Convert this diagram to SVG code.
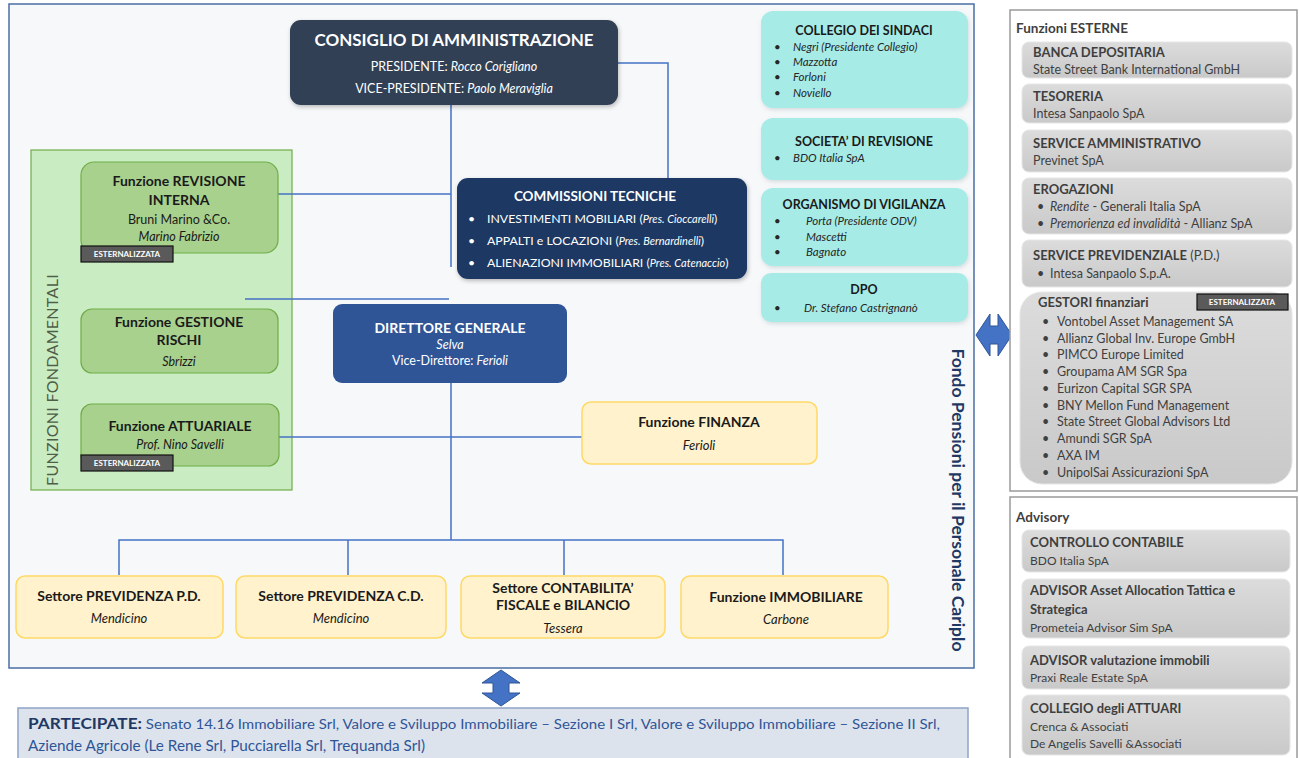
<svg xmlns="http://www.w3.org/2000/svg" width="1299" height="758" viewBox="0 0 1299 758">
<defs>
<style>
text{font-family:Lato,"Liberation Sans",sans-serif;}
.b{font-weight:bold;}
.i{font-style:italic;}
.w{fill:#ffffff;}
.k{fill:#1a1a1a;}
.g{fill:#3f3f3f;}
.c{text-anchor:middle;}
.cy{fill:#a6ebe6;}
.yl{fill:#fff2cc;stroke:#ffd966;stroke-width:1.5;}
.gr{fill:#a9d18e;stroke:#70ad47;stroke-width:1.2;}
.gb{fill:url(#gg);stroke:#e6e6e6;stroke-width:1;}
.badge{fill:#5a5a5a;stroke:#111;stroke-width:1.2;}
.bt{font-size:8px;font-weight:bold;fill:#fff;text-anchor:middle;}
.con{fill:none;stroke:#4472c4;stroke-width:1.5;}
</style>
<linearGradient id="gg" x1="0" y1="0" x2="0" y2="1">
<stop offset="0" stop-color="#dcdcdc"/>
<stop offset="1" stop-color="#c9c9c9"/>
</linearGradient>
<filter id="sh" x="-10%" y="-10%" width="125%" height="130%">
<feDropShadow dx="1" dy="2" stdDeviation="2" flood-color="#000" flood-opacity="0.25"/>
</filter>
<filter id="sh2" x="-10%" y="-10%" width="125%" height="130%">
<feDropShadow dx="1" dy="2" stdDeviation="2" flood-color="#6a8a8a" flood-opacity="0.25"/>
</filter>
</defs>
<rect x="0" y="0" width="1299" height="758" fill="#ffffff"/>
<!-- main frame -->
<g id="frame">
<rect x="9" y="4" width="965" height="664" fill="#f7f8fa" stroke="#4a6fa5" stroke-width="1.5"/>
<text class="b" font-size="17.5" fill="#1f3864" text-anchor="middle" transform="translate(952,500) rotate(90)">Fondo Pensioni per il Personale Cariplo</text>
</g>
<!-- green container -->
<g id="funzioni-fondamentali">
<rect x="31" y="150" width="261" height="340" fill="#c9ecc3" stroke="#70ad47" stroke-width="1.2"/>
<text font-size="16" fill="#4e5e47" text-anchor="middle" transform="translate(58,380) rotate(-90)" letter-spacing="0.3">FUNZIONI FONDAMENTALI</text>
</g>
<!-- connectors -->
<g id="connectors">
<path class="con" d="M451,105 V267"/>
<path class="con" d="M618,63 H668 V178"/>
<path class="con" d="M278,194 H451"/>
<path class="con" d="M245,299 H449"/>
<path class="con" d="M451,383 V540"/>
<path class="con" d="M278,437 H582"/>
<path class="con" d="M119,575 V540 H783 V575"/>
<path class="con" d="M348,540 V575"/>
<path class="con" d="M564,540 V575"/>
</g>
<!-- CdA -->
<g id="cda">
<rect x="290" y="20" width="328" height="85" rx="11" fill="#323f55" filter="url(#sh)"/>
<text class="b w c" x="454" y="46" font-size="17">CONSIGLIO DI AMMINISTRAZIONE</text>
<text class="w c" x="454" y="71" font-size="12.5">PRESIDENTE: <tspan class="i">Rocco Corigliano</tspan></text>
<text class="w c" x="454" y="93" font-size="12.5">VICE-PRESIDENTE: <tspan class="i">Paolo Meraviglia</tspan></text>
</g>
<!-- Commissioni -->
<g id="commissioni">
<rect x="457" y="178" width="290" height="101" rx="11" fill="#1f3864" filter="url(#sh)"/>
<text class="b w c" x="595" y="201" font-size="13.5">COMMISSIONI TECNICHE</text>
<g class="w" font-size="12.3">
<text x="468" y="223">•</text><text x="487" y="223">INVESTIMENTI MOBILIARI (<tspan class="i" font-size="11">Pres. Cioccarelli</tspan>)</text>
<text x="468" y="245">•</text><text x="487" y="245">APPALTI e LOCAZIONI (<tspan class="i" font-size="11">Pres. Bernardinelli</tspan>)</text>
<text x="468" y="267">•</text><text x="487" y="267">ALIENAZIONI IMMOBILIARI (<tspan class="i" font-size="11">Pres. Catenaccio</tspan>)</text>
</g>
</g>
<!-- DG -->
<g id="direttore-generale">
<rect x="333" y="304" width="234" height="79" rx="9" fill="#2f5597"/>
<text class="b w c" x="450" y="333" font-size="14">DIRETTORE GENERALE</text>
<text class="i w c" x="450" y="349" font-size="12.5">Selva</text>
<text class="w c" x="450" y="365" font-size="12.5">Vice-Direttore: <tspan class="i">Ferioli</tspan></text>
</g>
<!-- green boxes -->
<g id="revisione-interna">
<rect class="gr" x="81" y="162" width="197" height="91" rx="13"/>
<text class="b k c" x="179" y="186" font-size="14">Funzione REVISIONE</text>
<text class="b k c" x="179" y="205" font-size="14">INTERNA</text>
<text class="k c" x="179" y="224" font-size="12.5">Bruni Marino &amp;Co.</text>
<text class="i k c" x="179" y="241" font-size="12.5">Marino Fabrizio</text>
<rect class="badge" x="81" y="246" width="92" height="16"/>
<text class="bt" x="127" y="257">ESTERNALIZZATA</text>
</g>
<g id="gestione-rischi">
<rect class="gr" x="81" y="309" width="197" height="64" rx="11"/>
<text class="b k c" x="179" y="327" font-size="14">Funzione GESTIONE</text>
<text class="b k c" x="179" y="345" font-size="14">RISCHI</text>
<text class="i k c" x="179" y="366" font-size="12.5">Sbrizzi</text>
</g>
<g id="attuariale">
<rect class="gr" x="81" y="404" width="198" height="62" rx="11"/>
<text class="b k c" x="180" y="431" font-size="14">Funzione ATTUARIALE</text>
<text class="i k c" x="180" y="449" font-size="12.5">Prof. Nino Savelli</text>
<rect class="badge" x="81" y="455" width="92" height="16"/>
<text class="bt" x="127" y="466">ESTERNALIZZATA</text>
</g>
<!-- Finanza -->
<g id="finanza">
<rect class="yl" x="582" y="402" width="235" height="62" rx="9"/>
<text class="b k c" x="699" y="427" font-size="14">Funzione FINANZA</text>
<text class="i k c" x="699" y="450" font-size="13">Ferioli</text>
</g>
<!-- bottom row -->
<g id="previdenza-pd">
<rect class="yl" x="16" y="576" width="207" height="62" rx="9"/>
<text class="b k c" x="119" y="601" font-size="14">Settore PREVIDENZA P.D.</text>
<text class="i k c" x="119" y="623" font-size="13">Mendicino</text>
</g>
<g id="previdenza-cd">
<rect class="yl" x="236" y="576" width="210" height="62" rx="9"/>
<text class="b k c" x="341" y="601" font-size="14">Settore PREVIDENZA C.D.</text>
<text class="i k c" x="341" y="623" font-size="13">Mendicino</text>
</g>
<g id="contabilita">
<rect class="yl" x="461" y="576" width="204" height="62" rx="9"/>
<text class="b k c" x="563" y="593" font-size="14">Settore CONTABILITA’</text>
<text class="b k c" x="563" y="610" font-size="14">FISCALE e BILANCIO</text>
<text class="i k c" x="563" y="633" font-size="13">Tessera</text>
</g>
<g id="immobiliare">
<rect class="yl" x="681" y="576" width="207" height="62" rx="9"/>
<text class="b k c" x="786" y="602" font-size="14">Funzione IMMOBILIARE</text>
<text class="i k c" x="786" y="624" font-size="13">Carbone</text>
</g>
<!-- cyan boxes -->
<g id="collegio-sindaci">
<rect class="cy" x="761" y="11" width="207" height="97" rx="12" filter="url(#sh2)"/>
<text class="b k c" x="864" y="35" font-size="12.5">COLLEGIO DEI SINDACI</text>
<g class="i" font-size="11.5" fill="#262626">
<text x="774" y="51">•</text><text x="793" y="51">Negri (Presidente Collegio)</text>
<text x="774" y="66">•</text><text x="793" y="66">Mazzotta</text>
<text x="774" y="81">•</text><text x="793" y="81">Forloni</text>
<text x="774" y="97">•</text><text x="793" y="97">Noviello</text>
</g>
</g>
<g id="societa-revisione">
<rect class="cy" x="761" y="118" width="207" height="62" rx="12" filter="url(#sh2)"/>
<text class="b k c" x="864" y="146" font-size="12.5">SOCIETA’ DI REVISIONE</text>
<text x="774" y="162" font-size="11.5" fill="#262626">•</text><text class="i" x="793" y="162" font-size="11.5" fill="#262626">BDO Italia SpA</text>
</g>
<g id="organismo-vigilanza">
<rect class="cy" x="761" y="188" width="207" height="78" rx="12" filter="url(#sh2)"/>
<text class="b k c" x="864" y="209" font-size="12.5">ORGANISMO DI VIGILANZA</text>
<g class="i" font-size="11.5" fill="#262626">
<text x="774" y="225">•</text><text x="806" y="225">Porta (Presidente ODV)</text>
<text x="774" y="241">•</text><text x="806" y="241">Mascetti</text>
<text x="774" y="256">•</text><text x="806" y="256">Bagnato</text>
</g>
</g>
<g id="dpo">
<rect class="cy" x="761" y="273" width="207" height="49" rx="10" filter="url(#sh2)"/>
<text class="b k c" x="864" y="294" font-size="12.5">DPO</text>
<text x="774" y="312" font-size="11.5" fill="#262626">•</text><text class="i" x="804" y="312" font-size="11.5" fill="#262626">Dr. Stefano Castrignanò</text>
</g>
<!-- arrows -->
<g id="arrows" fill="#4472c4" stroke="#2f5597" stroke-width="1">
<polygon points="976,335 990,314 990,326 998,326 998,314 1012,335 998,356 998,344 990,344 990,356"/>
<polygon points="501,670 520,683 509,683 509,693 520,693 501,706 482,693 493,693 493,683 482,683"/>
</g>
<!-- right panel: funzioni esterne -->
<g id="funzioni-esterne">
<rect x="1010" y="10" width="287" height="481" fill="#ffffff" stroke="#9a9a9a" stroke-width="1.5"/>
<text class="b g" x="1016" y="33" font-size="13.5">Funzioni ESTERNE</text>
</g>
<g id="banca-depositaria">
<rect class="gb" x="1022" y="42" width="270" height="36" rx="7"/>
<text class="b g" x="1033" y="57" font-size="13">BANCA DEPOSITARIA</text>
<text class="g" x="1033" y="74" font-size="12.5">State Street Bank International GmbH</text>
</g>
<g id="tesoreria">
<rect class="gb" x="1022" y="84" width="270" height="39" rx="7"/>
<text class="b g" x="1033" y="101" font-size="13">TESORERIA</text>
<text class="g" x="1033" y="118" font-size="12.5">Intesa Sanpaolo SpA</text>
</g>
<g id="service-amministrativo">
<rect class="gb" x="1022" y="130" width="270" height="42" rx="7"/>
<text class="b g" x="1033" y="148" font-size="13">SERVICE AMMINISTRATIVO</text>
<text class="g" x="1033" y="165" font-size="12.5">Previnet SpA</text>
</g>
<g id="erogazioni">
<rect class="gb" x="1022" y="178" width="270" height="56" rx="7"/>
<text class="b g" x="1033" y="194" font-size="13">EROGAZIONI</text>
<text class="g" x="1037" y="211" font-size="12.5">•</text><text class="g" x="1050" y="211" font-size="12.5"><tspan class="i">Rendite</tspan> - Generali Italia SpA</text>
<text class="g" x="1037" y="228" font-size="12.5">•</text><text class="g" x="1050" y="228" font-size="12.5"><tspan class="i">Premorienza ed invalidità</tspan> - Allianz SpA</text>
</g>
<g id="service-previdenziale">
<rect class="gb" x="1022" y="240" width="270" height="47" rx="7"/>
<text class="g" x="1033" y="260" font-size="13"><tspan class="b">SERVICE PREVIDENZIALE</tspan> (P.D.)</text>
<text class="g" x="1037" y="278" font-size="12.5">•</text><text class="g" x="1050" y="278" font-size="12.5">Intesa Sanpaolo S.p.A.</text>
</g>
<g id="gestori-finanziari">
<rect class="gb" x="1020" y="292" width="272" height="192" rx="22"/>
<text class="b g" x="1038" y="307" font-size="13">GESTORI finanziari</text>
<rect class="badge" x="1197" y="294" width="91" height="16"/>
<text class="bt" x="1242" y="305">ESTERNALIZZATA</text>
<g class="g" font-size="12.5">
<text x="1042" y="326">•</text><text x="1057" y="326">Vontobel Asset Management SA</text>
<text x="1042" y="343">•</text><text x="1057" y="343">Allianz Global Inv. Europe GmbH</text>
<text x="1042" y="359">•</text><text x="1057" y="359">PIMCO Europe Limited</text>
<text x="1042" y="376">•</text><text x="1057" y="376">Groupama AM SGR Spa</text>
<text x="1042" y="393">•</text><text x="1057" y="393">Eurizon Capital SGR SPA</text>
<text x="1042" y="410">•</text><text x="1057" y="410">BNY Mellon Fund Management</text>
<text x="1042" y="426">•</text><text x="1057" y="426">State Street Global Advisors Ltd</text>
<text x="1042" y="443">•</text><text x="1057" y="443">Amundi SGR SpA</text>
<text x="1042" y="460">•</text><text x="1057" y="460">AXA IM</text>
<text x="1042" y="477">•</text><text x="1057" y="477">UnipolSai Assicurazioni SpA</text>
</g>
</g>
<!-- right panel: advisory -->
<g id="advisory">
<rect x="1010" y="497" width="287" height="265" fill="#ffffff" stroke="#9a9a9a" stroke-width="1.5"/>
<text class="b g" x="1016" y="522" font-size="13.5">Advisory</text>
</g>
<g id="controllo-contabile">
<rect class="gb" x="1022" y="530" width="268" height="42" rx="7"/>
<text class="b g" x="1030" y="547" font-size="13">CONTROLLO CONTABILE</text>
<text class="g" x="1030" y="565" font-size="12">BDO Italia SpA</text>
</g>
<g id="advisor-asset-allocation">
<rect class="gb" x="1022" y="579" width="268" height="59" rx="7"/>
<text class="b g" x="1030" y="595" font-size="13">ADVISOR Asset Allocation Tattica e</text>
<text class="b g" x="1030" y="614" font-size="13">Strategica</text>
<text class="g" x="1030" y="632" font-size="12">Prometeia Advisor Sim SpA</text>
</g>
<g id="advisor-immobili">
<rect class="gb" x="1022" y="646" width="268" height="43" rx="7"/>
<text class="b g" x="1030" y="665" font-size="13">ADVISOR valutazione immobili</text>
<text class="g" x="1030" y="682" font-size="12">Praxi Reale Estate SpA</text>
</g>
<g id="collegio-attuari">
<rect class="gb" x="1022" y="695" width="268" height="60" rx="7"/>
<text class="b g" x="1030" y="713" font-size="13">COLLEGIO degli ATTUARI</text>
<text class="g" x="1030" y="731" font-size="12">Crenca &amp; Associati</text>
<text class="g" x="1030" y="748" font-size="12">De Angelis Savelli &amp;Associati</text>
</g>
<!-- partecipate -->
<g id="partecipate">
<rect x="18" y="708" width="950" height="55" fill="#dce3ed" stroke="#8ea4c6" stroke-width="1.5"/>
<text x="28" y="729" font-size="14" fill="#2f5597" textLength="912" lengthAdjust="spacingAndGlyphs"><tspan class="b" font-size="16" fill="#1f3864">PARTECIPATE:</tspan> Senato 14.16 Immobiliare Srl, Valore e Sviluppo Immobiliare – Sezione I Srl, Valore e Sviluppo Immobiliare – Sezione II Srl,</text>
<text x="28" y="751" font-size="14.5" fill="#2f5597" textLength="397" lengthAdjust="spacingAndGlyphs">Aziende Agricole (Le Rene Srl, Pucciarella Srl, Trequanda Srl)</text>
</g>
</svg>
